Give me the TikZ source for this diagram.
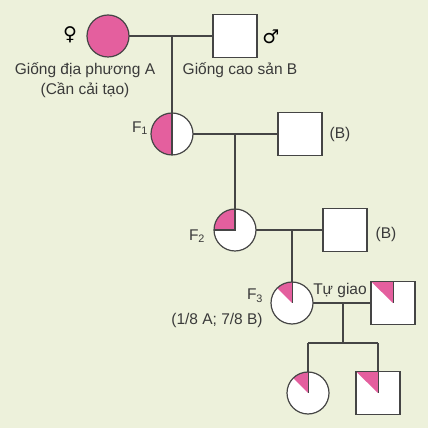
\documentclass[tikz,border=0pt]{standalone}
\usepackage{fontspec}
\setmainfont{Liberation Sans}
\newfontfamily\symfont{DejaVu Sans}
\definecolor{bgc}{HTML}{EDF1DB}
\definecolor{pk}{HTML}{E45F9E}
\definecolor{ln}{HTML}{454545}
\definecolor{tx}{HTML}{3A3A3A}
\begin{document}
\begin{tikzpicture}[x=1pt,y=1pt,
  every node/.style={inner sep=0pt, outer sep=0pt},
  lbl/.style={text=tx, font=\fontsize{15.5}{17}\selectfont},
  sym/.style={text=black, font=\symfont\bfseries\fontsize{19}{20}\selectfont},
  fem/.style={circle, draw=ln, line width=1.2pt, fill=white, minimum size=42pt},
  mal/.style={rectangle, draw=ln, line width=1.2pt, fill=white, minimum width=44pt, minimum height=43pt},
  link/.style={draw=ln, line width=1.2pt},
  half/.style={path picture={\fill[pk] (path picture bounding box.south west) rectangle (path picture bounding box.north);
     \draw[ln, line width=1.2pt] (path picture bounding box.south) -- (path picture bounding box.north);}},
  quarter/.style={path picture={\fill[pk] (path picture bounding box.center) -- (path picture bounding box.north) -- (path picture bounding box.north west) -- (path picture bounding box.west) -- cycle;
     \draw[ln, line width=1.2pt] (path picture bounding box.west) -- (path picture bounding box.center) -- (path picture bounding box.north);}},
  eighth/.style={path picture={\fill[pk] (path picture bounding box.center) -- (path picture bounding box.north) -- (path picture bounding box.north west) -- cycle;
     \draw[ln, line width=1pt] (path picture bounding box.center) -- (path picture bounding box.north);}}
]
\fill[bgc] (0,0) rectangle (428,428);
\useasboundingbox (0,0) rectangle (428,428);

% generation P
\node[fem, fill=pk] (A) at (108,392) {};
\node[mal] (B) at (235,392) {};
\node[sym] (sf) at (70,393) {♀};
\node[sym] (sm) at (271,391) {♂};
\node[lbl] (tA) at (85,358) {Giống địa phương A};
\node[lbl] (tA2) at (85,338) {(Cần cải tạo)};
\node[lbl] (tB) at (240,358) {Giống cao sản B};
\coordinate (m1) at (172,392);

% F1
\node[fem, half] (F1) at (172,294) {};
\node[mal] (B1) at (300,294) {};
\node[lbl] (tF1) at (140,300) {F\textsubscript{1}};
\node[lbl] (tB1) at (340,294) {(B)};
\coordinate (m2) at (235,294);

% F2
\node[fem, quarter] (F2) at (235,198) {};
\node[mal] (B2) at (345,198) {};
\node[lbl] (tF2) at (197,192) {F\textsubscript{2}};
\node[lbl] (tB2) at (386,194) {(B)};
\coordinate (m3) at (292,198);

% F3
\node[fem, eighth] (F3) at (292,125) {};
\node[mal, eighth] (S3) at (393,125) {};
\node[lbl] (tF3) at (255,132) {F\textsubscript{3}};
\node[lbl] (tF3b) at (217,108) {(1/8 A; 7/8 B)};
\node[lbl] (tTG) at (340,138) {Tự giao};
\coordinate (m4) at (343,125);
\coordinate (j4) at (343,85);
\coordinate (jl) at (308,85);
\coordinate (jr) at (378,85);

% F4
\node[fem, eighth] (C1) at (308,35) {};
\node[mal, eighth] (C2) at (378,35) {};

% connectors
\path[link] (A.east) -- (B.west);
\path[link] (m1) -- (F1.north);
\path[link] (F1.east) -- (B1.west);
\path[link] (m2) -- (F2.north);
\path[link] (F2.east) -- (B2.west);
\path[link] (m3) -- (F3.north);
\path[link] (F3.east) -- (S3.west);
\path[link] (m4) -- (j4);
\path[link] (jl) -- (jr);
\path[link] (jl) -- (C1.north);
\path[link] (jr) -- (C2.north);
\end{tikzpicture}
\end{document}
